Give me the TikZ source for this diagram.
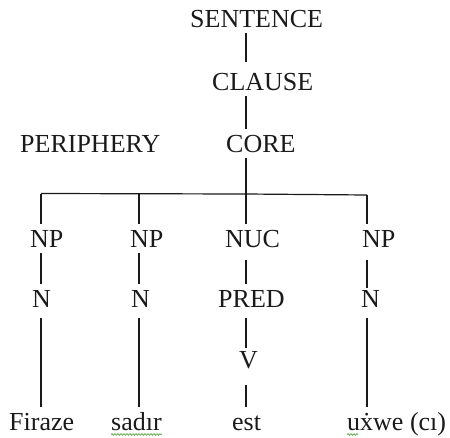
\documentclass[tikz,border=0pt]{standalone}
\usepackage{fontspec}
\setmainfont{Liberation Serif}
\usetikzlibrary{calc,decorations.pathmorphing}
\definecolor{ink}{HTML}{1A1A1A}
\definecolor{wavy}{HTML}{5FA84A}
\tikzset{
  lbl/.style={anchor=base west, inner xsep=0pt, inner ysep=6pt,
    text height=17pt, text depth=0pt, text=ink,
    font=\fontsize{26}{30}\selectfont},
  branch/.style={draw=ink, line width=1.2pt},
  squiggle/.style={draw=wavy, line width=0.7pt,
    decorate, decoration={snake, amplitude=0.9pt, segment length=3pt}}
}
\begin{document}
\begin{tikzpicture}[x=1pt, y=-1pt]
  \useasboundingbox (0,0) rectangle (450,437);
  % tree levels
  \node[lbl] (sent) at (190,27) {SENTENCE};
  \node[lbl] (clause) at (212,90) {CLAUSE};
  \node[lbl] (peri) at (20,152) {PERIPHERY};
  \node[lbl] (core) at (226,152) {CORE};
  \node[lbl] (np1) at (30,247) {NP};
  \node[lbl] (np2) at (130,247) {NP};
  \node[lbl] (nuc) at (225,247) {NUC};
  \node[lbl] (np4) at (362,247) {NP};
  \node[lbl] (n1) at (32,307) {N};
  \node[lbl] (n2) at (131,307) {N};
  \node[lbl] (pred) at (218,307) {PRED};
  \node[lbl] (n4) at (361,307) {N};
  \node[lbl] (v) at (239,368) {V};
  \node[lbl] (w1) at (9,430) {Firaze};
  \node[lbl] (w2) at (111,430) {sadır};
  \node[lbl] (w3) at (232,430) {est};
  \node[lbl] (w4) at (347,430) {uẋwe (cı)};

  % columns and the branching bar under CORE
  \coordinate (hub) at (246,194);
  \coordinate (b1) at (41,193.5);
  \coordinate (b2) at (139,193.8);
  \coordinate (b4) at (367,195);

  \draw[branch] (sent.south -| hub) -- ([yshift=5pt]clause.north -| hub);
  \draw[branch] (clause.south -| hub) -- (core.north -| hub);
  \draw[branch] (core.south -| hub) -- (hub);
  \draw[branch] (b1) -- (hub) -- (b4);

  \draw[branch] (b1) -- (np1.north -| b1);
  \draw[branch] (b2) -- (np2.north -| b2);
  \draw[branch] (hub) -- (nuc.north -| hub);
  \draw[branch] (b4) -- (np4.north -| b4);

  \draw[branch] (np1.south -| b1) -- (n1.north -| b1);
  \draw[branch] (np2.south -| b2) -- (n2.north -| b2);
  \draw[branch] ([yshift=-7pt]nuc.south -| hub) -- (pred.north -| hub);
  \draw[branch] ([yshift=-7pt]np4.south -| b4) -- ([yshift=-4pt]n4.north -| b4);

  \draw[branch] ([yshift=-5pt]n1.south -| b1) -- (w1.north -| b1);
  \draw[branch] ([yshift=-5pt]n2.south -| b2) -- (w2.north -| b2);
  \draw[branch] ([yshift=-5pt]pred.south -| hub) -- ([yshift=-3pt]v.north -| hub);
  \draw[branch] ([yshift=-11pt]v.south -| hub) -- (w3.north -| hub);
  \draw[branch] ([yshift=-5pt]n4.south -| b4) -- (w4.north -| b4);

  % spell-check underlines
  \draw[squiggle] ($(w2.base west)+(0,4.5)$) -- ($(w2.base east)+(0,4.5)$);
  \draw[squiggle] ($(w4.base west)+(0,4.5)$) -- ($(w4.base west)+(11,4.5)$);
\end{tikzpicture}
\end{document}
